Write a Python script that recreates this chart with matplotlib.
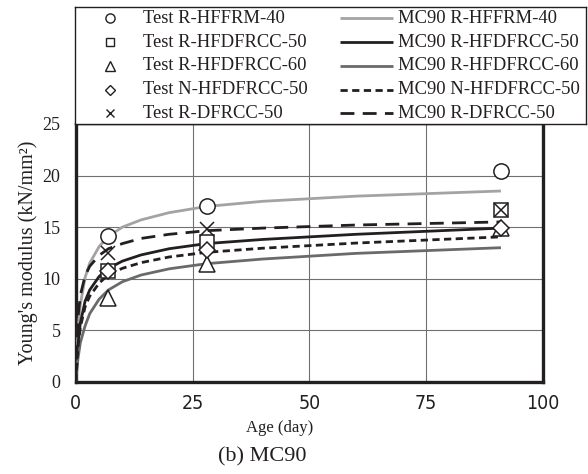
import matplotlib
matplotlib.use('Agg')
import matplotlib.pyplot as plt
from matplotlib import font_manager
from matplotlib.font_manager import FontProperties

# ============================================================
# Data
# ============================================================

test_age = [7, 28, 91]
test_r_hffrm40 = [14.1, 17.0, 20.4]
test_r_hfdfrcc50 = [10.7, 13.6, 16.7]
test_r_hfdfrcc60 = [8.1, 11.4, 14.9]
test_n_hfdfrcc50 = [10.7, 12.8, 14.9]
test_r_dfrcc50 = [12.5, 14.8, 16.7]

model_age = [0, 0.5, 1, 2, 3, 5, 7, 10, 14, 20, 28, 40, 60, 91]
mc90_r_hffrm40 = [0, 5.0, 7.5, 10.1, 11.5, 13.1, 14.1, 15.0, 15.7, 16.4, 17.0, 17.5, 18.0, 18.5]
mc90_r_hfdfrcc50 = [0, 3.7, 5.7, 7.8, 8.9, 10.2, 11.0, 11.7, 12.3, 12.9, 13.4, 13.8, 14.3, 14.9]
mc90_r_hfdfrcc60 = [0, 2.3, 3.8, 5.4, 6.6, 8.0, 8.9, 9.7, 10.35, 10.95, 11.45, 11.9, 12.45, 13.0]
mc90_n_hfdfrcc50 = [0, 3.4, 5.3, 7.25, 8.3, 9.55, 10.4, 11.0, 11.55, 12.1, 12.55, 12.95, 13.45, 14.05]
mc90_r_dfrcc50 = [0, 6.3, 8.4, 10.25, 11.2, 12.25, 12.9, 13.4, 13.9, 14.3, 14.65, 14.9, 15.2, 15.5]

test_labels = ['Test R-HFFRM-40', 'Test R-HFDFRCC-50', 'Test R-HFDFRCC-60',
               'Test N-HFDFRCC-50', 'Test R-DFRCC-50']
model_labels = ['MC90 R-HFFRM-40', 'MC90 R-HFDFRCC-50', 'MC90 R-HFDFRCC-60',
                'MC90 N-HFDFRCC-50', 'MC90 R-DFRCC-50']

x_ticks = [0, 25, 50, 75, 100]
y_ticks = [0, 5, 10, 15, 20, 25]

# ============================================================
# Styles
# ============================================================

INK = '#231f20'
LIGHT = '#a3a3a3'
DARK = '#6a6a6a'

SERIF = 'Liberation Serif'


def narrow_font():
    """Hladaj uzky (condensed) sans font pre popisy osi x."""
    for f in font_manager.fontManager.ttflist:
        nm = f.name.lower()
        st = f.stretch
        narrow = ('narrow' in nm or 'condensed' in nm
                  or (isinstance(st, str) and 'condensed' in st)
                  or (isinstance(st, int) and st < 500))
        if narrow and f.style == 'normal' and f.weight in (400, 'normal', 'regular'):
            return FontProperties(fname=f.fname, size=14)
    return FontProperties(family='Roboto', size=12.5)


XTICK_FONT = narrow_font()

TEST_STYLE = [
    dict(marker='o', ms=11),
    dict(marker='s', ms=10),
    dict(marker='^', ms=11),
    dict(marker='D', ms=8),
    dict(marker='x', ms=10),
]
LINE_STYLE = [
    dict(color=LIGHT, ls='-'),
    dict(color=INK, ls='-'),
    dict(color=DARK, ls='-'),
    dict(color=INK, ls=(0, (2.6, 1.6))),
    dict(color=INK, ls=(0, (5.0, 3.0))),
]

W, H = 588, 474
fig = plt.figure(figsize=(W / 100, H / 100), dpi=100)
fig.patch.set_facecolor('white')

# axes in pixel box
left, right, top, bottom = 75.7, 543.0, 124.0, 381.7
ax = fig.add_axes([left / W, 1 - bottom / H, (right - left) / W, (bottom - top) / H])

models = [mc90_r_hffrm40, mc90_r_hfdfrcc50, mc90_r_hfdfrcc60, mc90_n_hfdfrcc50, mc90_r_dfrcc50]
tests = [test_r_hffrm40, test_r_hfdfrcc50, test_r_hfdfrcc60, test_n_hfdfrcc50, test_r_dfrcc50]

for vals, st in zip(models, LINE_STYLE):
    ax.plot(model_age, vals, color=st['color'], linestyle=st['ls'], linewidth=2.0,
            zorder=3, solid_capstyle='butt', dash_capstyle='butt')

for i, (vals, st) in enumerate(zip(tests, TEST_STYLE)):
    face = 'none' if st['marker'] == 'x' else 'white'
    ax.plot(test_age, vals, linestyle='none', marker=st['marker'], markersize=st['ms'],
            markerfacecolor=face, markeredgecolor=INK, markeredgewidth=1.1,
            zorder=4 + i, clip_on=False)

ax.set_xlim(0, 100)
ax.set_ylim(0, 25)
ax.set_xticks(x_ticks)
ax.set_yticks(y_ticks)
ax.set_xticklabels([str(v) for v in x_ticks], fontproperties=XTICK_FONT, color=INK)
ax.set_yticklabels([str(v) for v in y_ticks], fontfamily=SERIF, fontsize=13, color=INK)
ax.tick_params(axis='x', length=0, pad=9)
ax.tick_params(axis='y', length=0, pad=11)
ax.grid(True, color='#707070', linewidth=0.8)
ax.set_axisbelow(True)
for side in ['left', 'bottom', 'right']:
    ax.spines[side].set_linewidth(2.4)
    ax.spines[side].set_color(INK)
ax.spines['top'].set_linewidth(1.0)
ax.spines['top'].set_color(INK)

ax.set_ylabel("Young's modulus (kN/mm²)", fontfamily=SERIF, fontsize=14.5, color=INK, labelpad=3)

fig.text(280 / W, 1 - 428 / H, 'Age (day)', fontfamily=SERIF, fontsize=12,
         ha='center', va='center', color=INK)
fig.text(262 / W, 1 - 457 / H, '(b) MC90', fontfamily=SERIF, fontsize=16,
         ha='center', va='center', color=INK)

# ============================================================
# Legend box above the plot (two columns)
# ============================================================

lg_l, lg_r, lg_t, lg_b = 75.0, 586.0, 6.7, 124.0
lax = fig.add_axes([lg_l / W, 1 - lg_b / H, (lg_r - lg_l) / W, (lg_b - lg_t) / H])
lax.set_xlim(0, lg_r - lg_l)
lax.set_ylim(lg_b - lg_t, 0)
lax.set_xticks([])
lax.set_yticks([])
for sp in lax.spines.values():
    sp.set_linewidth(1.0)
    sp.set_color(INK)

row0, step = 11.6, 23.75
for i in range(5):
    y = row0 + i * step
    st = TEST_STYLE[i]
    lax.plot([35], [y], linestyle='none', marker=st['marker'], markersize=st['ms'] * 0.6,
             markerfacecolor='none', markeredgecolor=INK, markeredgewidth=1.0)
    lax.text(68, y, test_labels[i], fontfamily=SERIF, fontsize=13.4, va='center',
             ha='left', color=INK)
    ls = LINE_STYLE[i]
    lax.plot([265, 318], [y, y], color=ls['color'], linestyle=ls['ls'], linewidth=2.0,
             solid_capstyle='butt', dash_capstyle='butt')
    lax.text(323, y, model_labels[i], fontfamily=SERIF, fontsize=13.4, va='center',
             ha='left', color=INK)

fig.savefig('out.png', dpi=100)
